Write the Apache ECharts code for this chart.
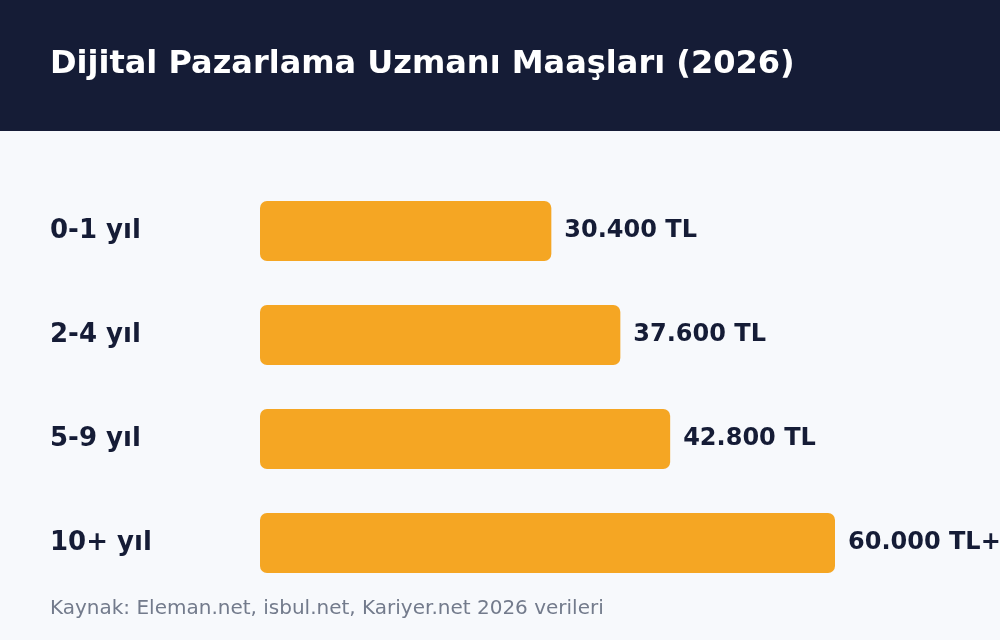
<!DOCTYPE html>
<html lang="tr">
<head>
<meta charset="UTF-8">
<title>Dijital Pazarlama Uzmanı Maaşları (2026)</title>
<script src="https://cdn.jsdelivr.net/npm/echarts@6/dist/echarts.min.js"></script>
<style>
  html, body { margin: 0; padding: 0; background: #f7f9fc; }
  #chart { width: 1000px; height: 640px; }
</style>
</head>
<body>
<div id="chart"></div>
<script>
// veriler
const titleText = 'Dijital Pazarlama Uzmanı Maaşları (2026)'
const sourceText = 'Kaynak: Eleman.net, isbul.net, Kariyer.net 2026 verileri'
const categories = ['0-1 yıl', '2-4 yıl', '5-9 yıl', '10+ yıl']
const salaries = [30400, 37600, 42800, 60000]
const valueLabels = ['30.400 TL', '37.600 TL', '42.800 TL', '60.000 TL+']

const navy = '#151c36'
const font = '"DejaVu Sans"'

const chart = echarts.init(document.getElementById('chart'), null, { renderer: 'canvas' })

chart.setOption({
  backgroundColor: '#f7f9fc',
  animation: false,
  graphic: [
    // başlık şeridi
    { type: 'rect', left: 0, top: 0, shape: { width: 1000, height: 131 }, style: { fill: navy }, z: 0 },
    {
      type: 'text', x: 50, y: 65, z: 1,
      style: { text: titleText, fill: '#ffffff', font: 'bold 32px "DejaVu Sans"', verticalAlign: 'middle' }
    },
    {
      type: 'text', x: 50, y: 609, z: 1,
      style: { text: sourceText, fill: '#737b8c', font: '20px "DejaVu Sans"', verticalAlign: 'middle' }
    }
  ],
  grid: { left: 260, top: 179, width: 575, height: 416 },
  xAxis: {
    type: 'value', min: 0, max: 60000,
    show: false
  },
  yAxis: {
    type: 'category', data: categories, inverse: true,
    axisLine: { show: false }, axisTick: { show: false }, splitLine: { show: false },
    axisLabel: {
      align: 'left', margin: 210,
      color: navy, fontFamily: font, fontWeight: 'bold', fontSize: 26
    }
  },
  series: [{
    type: 'bar',
    data: salaries,
    barWidth: 60,
    itemStyle: { color: '#f5a623', borderRadius: 7 },
    label: {
      show: true, position: 'right', distance: 13,
      color: navy, fontFamily: font, fontWeight: 'bold', fontSize: 24,
      formatter: p => valueLabels[p.dataIndex]
    }
  }]
})
</script>
</body>
</html>
